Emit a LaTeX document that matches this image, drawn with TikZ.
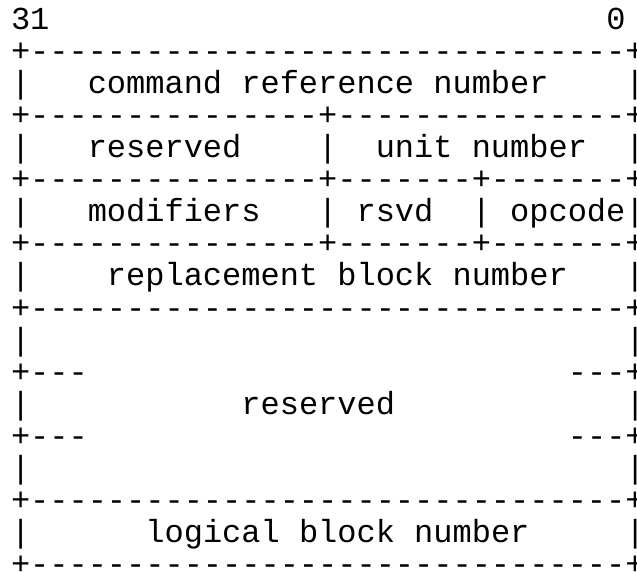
\documentclass[tikz,border=0pt]{standalone}
\usepackage{fontspec}
% fixed-pitch face, no TeX ligatures so "--" stays two hyphens
\newfontfamily\asciimono{Liberation Mono}[WordSpace={1,0,0}]
\ExplSyntaxOn
\cs_new:Npn \asciidashes #1 { \prg_replicate:nn {#1} {-} }
\ExplSyntaxOff
% n blank character cells
\newcommand\asciigap[1]{\hspace*{#1\fontcharwd\font`0}}
% last column of a line: drawn, but not counted in the line's width
\newcommand\asciiedge[1]{\rlap{#1}}
\begin{document}
\begin{tikzpicture}[x=1pt,y=1pt,
  asciirow/.style={anchor=base west, inner sep=0pt, outer sep=0pt,
    font=\asciimono\fontsize{32}{32}\selectfont\frenchspacing, text=black}]
\useasboundingbox (0,0) rectangle (637,571);
\fill[white] (0,0) rectangle (637,571);
% one node per text line, 32pt pitch
\node[asciirow] (row0)  at (11,541) {31\asciigap{29}0};
\node[asciirow] (row1)  at (11,509) {+\asciidashes{31}\asciiedge{+}};
\node[asciirow] (row2)  at (11,477) {|\asciigap{3}command reference number\asciigap{4}\asciiedge{|}};
\node[asciirow] (row3)  at (11,445) {+\asciidashes{15}+\asciidashes{15}\asciiedge{+}};
\node[asciirow] (row4)  at (11,413) {|\asciigap{3}reserved\asciigap{4}|\asciigap{2}unit number\asciigap{2}\asciiedge{|}};
\node[asciirow] (row5)  at (11,381) {+\asciidashes{15}+\asciidashes{7}+\asciidashes{7}\asciiedge{+}};
\node[asciirow] (row6)  at (11,349) {|\asciigap{3}modifiers\asciigap{3}|\asciigap{1}rsvd\asciigap{2}|\asciigap{1}opcode\asciiedge{|}};
\node[asciirow] (row7)  at (11,317) {+\asciidashes{15}+\asciidashes{7}+\asciidashes{7}\asciiedge{+}};
\node[asciirow] (row8)  at (11,285) {|\asciigap{4}replacement block number\asciigap{3}\asciiedge{|}};
\node[asciirow] (row9)  at (11,253) {+\asciidashes{31}\asciiedge{+}};
\node[asciirow] (row10) at (11,221) {|\asciigap{31}\asciiedge{|}};
\node[asciirow] (row11) at (11,189) {+---\asciigap{25}--\asciiedge{-+}};
\node[asciirow] (row12) at (11,157) {|\asciigap{11}reserved\asciigap{12}\asciiedge{|}};
\node[asciirow] (row13) at (11,125) {+---\asciigap{25}--\asciiedge{-+}};
\node[asciirow] (row14) at (11,93)  {|\asciigap{31}\asciiedge{|}};
\node[asciirow] (row15) at (11,61)  {+\asciidashes{31}\asciiedge{+}};
\node[asciirow] (row16) at (11,29)  {|\asciigap{6}logical block number\asciigap{5}\asciiedge{|}};
\node[asciirow] (row17) at (11,-3)  {+\asciidashes{31}\asciiedge{+}};
\end{tikzpicture}
\end{document}
